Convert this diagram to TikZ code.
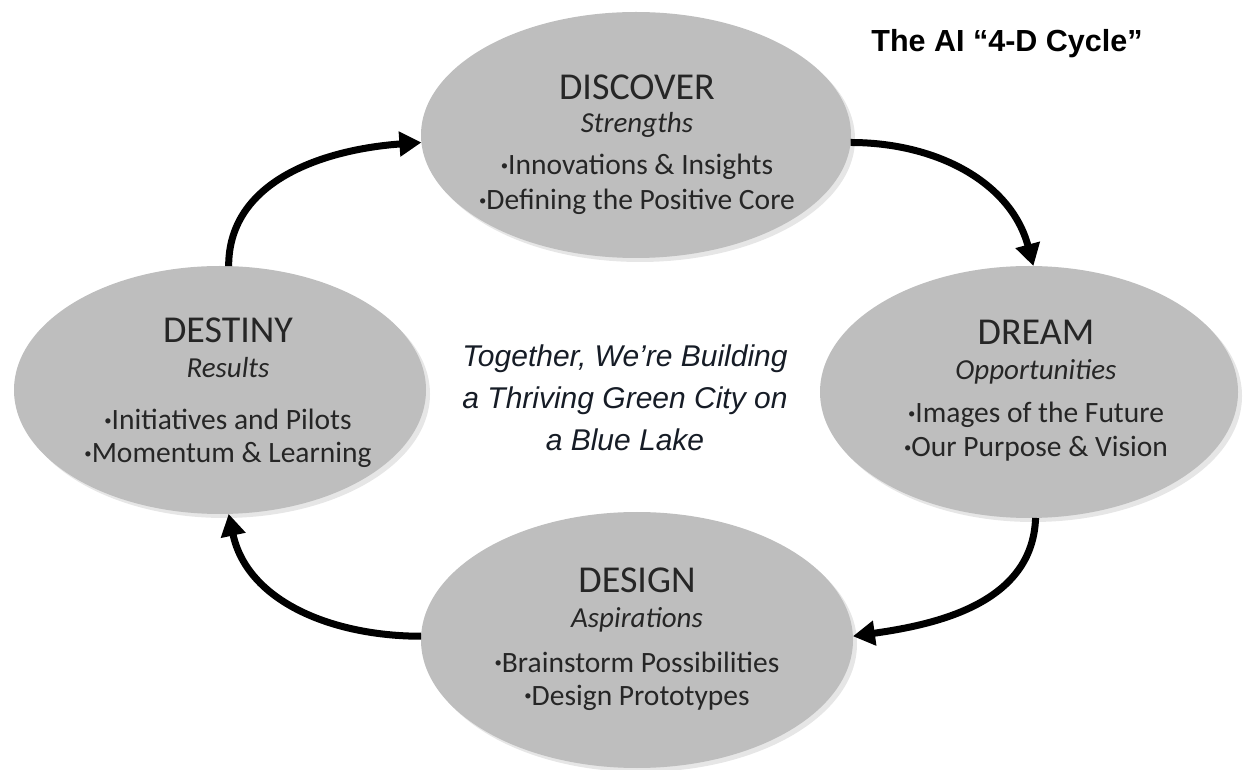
\documentclass[tikz,border=0pt]{standalone}
\usepackage{fontspec}
\usepackage{graphicx}
\setmainfont{Carlito}
\newfontfamily\arialfont{Liberation Sans}
\usetikzlibrary{shapes.geometric,arrows.meta,shadows}
\definecolor{ellgray}{RGB}{190,190,190}
\definecolor{txtgray}{RGB}{38,38,38}
\definecolor{ctext}{RGB}{22,28,38}
\newcommand\phbul{\raisebox{0.32ex}{\scalebox{0.5}{\textbullet}}}
\begin{document}
\begin{tikzpicture}[x=1pt,y=1pt,
  phase/.style={ellipse, fill=ellgray, draw=none, inner sep=0pt, outer sep=0pt,
    drop shadow={opacity=0.2, shadow xshift=4pt, shadow yshift=-4pt, fill=gray}},
  head/.style={anchor=base, inner sep=0pt, text=txtgray, font=\fontsize{38}{40}\selectfont},
  sub/.style={anchor=base, inner sep=0pt, text=txtgray, font=\fontsize{29}{32}\selectfont\itshape},
  item/.style={anchor=base, inner sep=0pt, text=txtgray, font=\fontsize{29.5}{32}\selectfont},
  cyc/.style={line width=7pt, -{Triangle[length=22pt,width=24pt]}},
]
\useasboundingbox (0,0) rectangle (1248,769);

% ellipses
\node[phase, minimum width=430pt, minimum height=246pt] (discover) at (636,634) {};
\node[phase, minimum width=418pt, minimum height=252pt] (dream) at (1029,377) {};
\node[phase, minimum width=412pt, minimum height=248pt] (destiny) at (220,379) {};
\node[phase, minimum width=432pt, minimum height=256pt] (design) at (637,129) {};

% DISCOVER
\node[head] (discH) at (637,669) {DISCOVER};
\node[sub]  (discS) at (637,636) {Strengths};
\node[item] (disc1) at (637,594) {\phbul Innovations \& Insights};
\node[item] (disc2) at (637,559) {\phbul Defining the Positive Core};

% DREAM
\node[head] (dreamH) at (1036,424) {DREAM};
\node[sub]  (dreamS) at (1036,389) {Opportunities};
\node[item] (dream1) at (1036,346) {\phbul Images of the Future};
\node[item] (dream2) at (1036,312) {\phbul Our Purpose \& Vision};

% DESTINY
\node[head] (destH) at (228,426) {DESTINY};
\node[sub]  (destS) at (228,391) {Results};
\node[item] (dest1) at (228,339) {\phbul Initiatives and Pilots};
\node[item] (dest2) at (228,306) {\phbul Momentum \& Learning};

% DESIGN
\node[head] (desH) at (637,176) {DESIGN};
\node[sub]  (desS) at (637,141) {Aspirations};
\node[item] (des1) at (637,97) {\phbul Brainstorm Possibilities};
\node[item] (des2) at (637,64) {\phbul Design Prototypes};

% centre text
\node[anchor=north, align=center, inner sep=0pt, text=ctext,
      font=\arialfont\itshape\fontsize{30}{42}\selectfont] (centre) at (625,424)
  {Together, We’re Building\\a Thriving Green City on\\a Blue Lake};

% title
\node[anchor=base, inner sep=0pt, text=black,
      font=\arialfont\bfseries\fontsize{30.5}{34}\selectfont] (title) at (1007,717)
  {The AI “4-D Cycle”};

% cycle arrows
\draw[cyc] (destiny.86) to[out=90, in=184] (discover.182);
\draw[cyc] (discover.358) to[out=0, in=105] (dream.88);
\draw[cyc] (dream.273) to[out=-92, in=8] (design.1);
\draw[cyc] (design.179.5) to[out=180, in=-78] (destiny.274);
\end{tikzpicture}
\end{document}
